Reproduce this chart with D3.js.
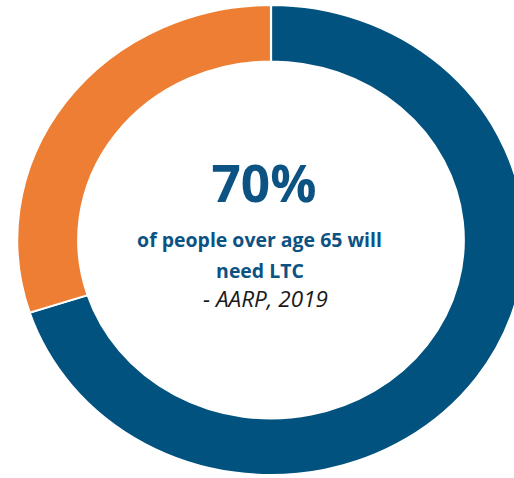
<!DOCTYPE html>
<html>
<head>
<meta charset="utf-8">
<script src="https://cdn.jsdelivr.net/npm/d3@7"></script>
<style>
  body { margin: 0; background: #fff; overflow: hidden; }
</style>
</head>
<body>
<div id="chart"></div>
<script>
// data
const categories = ["Will need LTC", "Will not"];
const shares = [70, 30];
const colors = ["#02527f", "#ed7e33"];
const headline = "70%";
const captionLines = ["of people over age 65 will", "need LTC"];
const sourceLine = "- AARP, 2019";

const width = 514, height = 478;
const cx = 271, cy = 240;
const outerR = 235, innerR = 178.5;
const stretchX = 1.08; // ring is slightly wider than tall

const svg = d3.select("#chart").append("svg")
    .attr("width", width)
    .attr("height", height);

const pie = d3.pie()
    .sort(null)
    .value(d => d);

const arc = d3.arc()
    .innerRadius(innerR)
    .outerRadius(outerR);

const ring = svg.append("g")
    .attr("transform", "translate(" + cx + "," + cy + ") scale(" + stretchX + ",1)");

ring.selectAll("path")
    .data(pie(shares))
  .enter().append("path")
    .attr("d", arc)
    .attr("fill", (d, i) => colors[i])
    .attr("stroke", "#fff")
    .attr("stroke-width", 2);

// fit a text to a target width by adjusting font size
function fit(t, target) {
    const w = t.node().getComputedTextLength();
    const fs = parseFloat(t.attr("font-size"));
    t.attr("font-size", fs * target / w);
}

const font = "'Open Sans', sans-serif";

const big = svg.append("text")
    .text(headline)
    .attr("x", 264)
    .attr("y", 202)
    .attr("text-anchor", "middle")
    .attr("font-family", font)
    .attr("font-weight", 700)
    .attr("font-size", 52)
    .attr("fill", "#0c5283");
fit(big, 105);

const cap1 = svg.append("text")
    .text(captionLines[0])
    .attr("x", 259.5)
    .attr("y", 247)
    .attr("text-anchor", "middle")
    .attr("font-family", font)
    .attr("font-weight", 700)
    .attr("font-size", 18)
    .attr("fill", "#0c5283");
fit(cap1, 245);

const cap2 = svg.append("text")
    .text(captionLines[1])
    .attr("x", 260)
    .attr("y", 278)
    .attr("text-anchor", "middle")
    .attr("font-family", font)
    .attr("font-weight", 700)
    .attr("font-size", cap1.attr("font-size"))
    .attr("fill", "#0c5283");

const src = svg.append("text")
    .text(sourceLine)
    .attr("x", 265.5)
    .attr("y", 307)
    .attr("text-anchor", "middle")
    .attr("font-family", font)
    .attr("font-style", "italic")
    .attr("font-size", 18)
    .attr("fill", "#1a1a1a");
fit(src, 125);
</script>
</body>
</html>
